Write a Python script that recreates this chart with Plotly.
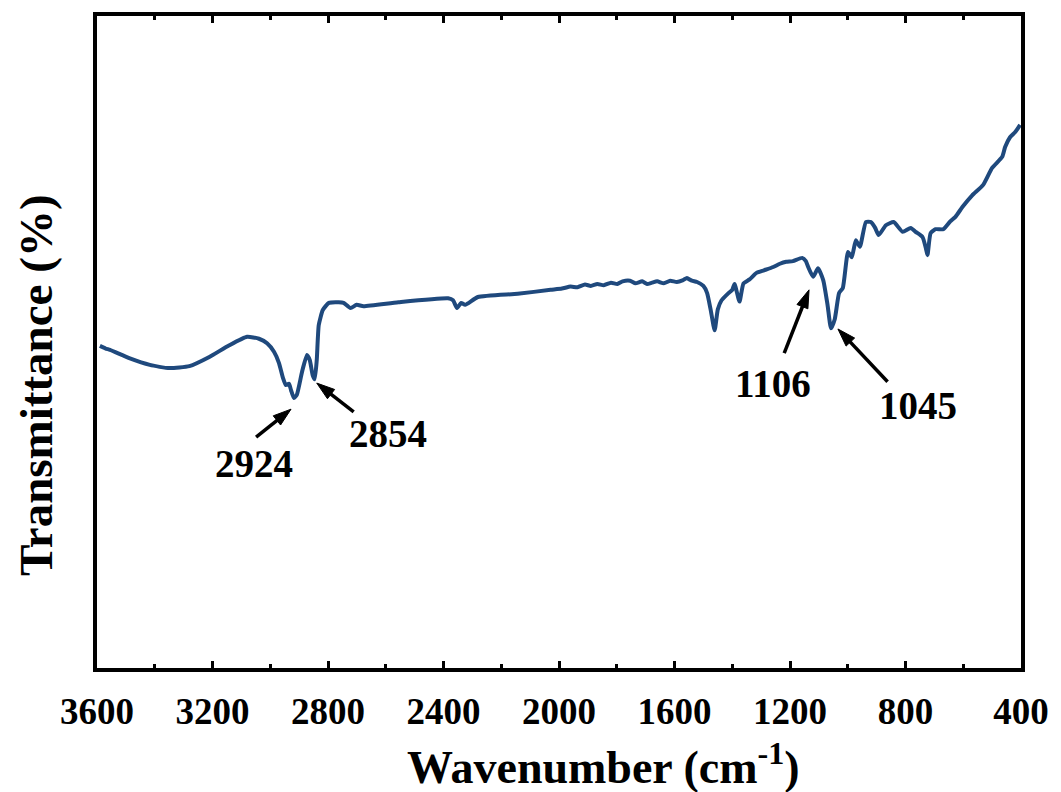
import plotly.graph_objects as go

wavenumber = [3590, 3570, 3555, 3486, 3417, 3349, 3280, 3211, 3142, 3080, 3039, 3011, 2987, 2970,
              2956, 2946, 2935, 2928, 2918, 2908, 2890, 2873, 2863, 2853, 2846, 2839, 2832, 2818,
              2797, 2763, 2746, 2722, 2701, 2677, 2556, 2384, 2367, 2353, 2339, 2325, 2281, 2143,
              2029, 1990, 1960, 1936, 1910, 1890, 1867, 1845, 1820, 1798, 1780, 1754, 1735, 1712,
              1695, 1678, 1660, 1637, 1615, 1592, 1570, 1557, 1540, 1522, 1500, 1487, 1475, 1461,
              1450, 1437, 1413, 1400, 1392, 1375, 1361, 1340, 1316, 1290, 1258, 1235, 1213, 1190,
              1158, 1145, 1137, 1120, 1103, 1085, 1070, 1058, 1045, 1030, 1017, 999, 986, 972,
              958, 937, 920, 905, 893, 868, 841, 810, 782, 765, 741, 730, 724, 713, 696, 669,
              645, 627, 603, 569, 531, 500, 465, 455, 438, 420, 403]
transmittance = [49.4, 49.0, 48.8, 47.5, 46.5, 46.0, 46.3, 47.7, 49.5, 50.8, 50.5, 49.8, 48.5, 46.8,
                 44.5, 43.4, 43.6, 42.6, 41.4, 41.9, 45.4, 48.0, 47.2, 44.9, 44.3, 47.2, 52.6, 54.9,
                 56.0, 56.1, 56.0, 55.2, 55.7, 55.5, 56.1, 56.7, 56.4, 55.2, 56.0, 55.7, 56.9, 57.4,
                 58.0, 58.2, 58.5, 58.4, 58.8, 58.6, 58.9, 58.7, 59.1, 58.9, 59.3, 59.4, 59.0, 59.3,
                 58.9, 59.1, 59.3, 59.0, 59.4, 59.2, 59.5, 59.8, 59.4, 59.2, 58.6, 57.5, 55.0, 51.8,
                 55.0, 56.4, 57.5, 58.0, 58.9, 56.2, 59.0, 59.6, 60.6, 61.0, 61.5, 62.0, 62.3, 62.4,
                 62.9, 62.4, 61.5, 60.0, 61.3, 59.5, 55.7, 52.1, 53.5, 57.5, 58.3, 63.8, 63.0, 65.6,
                 64.6, 68.4, 68.4, 67.5, 66.4, 67.9, 68.4, 66.9, 67.5, 66.9, 66.1, 64.5, 63.3, 66.7,
                 67.3, 67.3, 68.5, 69.2, 70.7, 72.5, 74.1, 76.7, 78.4, 79.9, 81.4, 82.2, 83.3]

peak_labels = ["2924", "2854", "1106", "1045"]
x_ticks = [3600, 3200, 2800, 2400, 2000, 1600, 1200, 800, 400]
x_minor = [3400, 3000, 2600, 2200, 1800, 1400, 1000, 600]

serif = "Liberation Serif"

fig = go.Figure()
fig.add_trace(go.Scatter(x=wavenumber, y=transmittance, mode="lines",
                         line=dict(color="#1f497d", width=4, shape="spline", smoothing=0.5),
                         showlegend=False, hoverinfo="skip"))

# arrows: (tail_x, tail_y, head_x, head_y); label centres
arrows = [(3049, 35.4, 2928, 39.7), (2711, 39.3, 2839, 43.7),
          (1220, 48.3, 1134, 58.0), (862, 43.9, 1034, 52.0)]
label_pos = [(3056, 31.4), (2591, 36.0), (1258, 43.7), (758, 40.3)]
for lab, (tx, ty, hx, hy), (lx, ly) in zip(peak_labels, arrows, label_pos):
    fig.add_trace(go.Scatter(x=[tx, hx], y=[ty, hy], mode="lines+markers",
                             line=dict(color="black", width=3.5),
                             marker=dict(symbol="arrow", size=[0, 19], angleref="previous",
                                         color="black", opacity=1,
                                         line=dict(width=1, color="black")),
                             showlegend=False, hoverinfo="skip"))
    fig.add_annotation(x=lx, y=ly, xref="x", yref="y", text="<b>%s</b>" % lab, showarrow=False,
                       font=dict(family=serif, size=39, color="black"))

fig.add_annotation(x=0.548, y=-0.148, xref="paper", yref="paper", showarrow=False,
                   text="<b>Wavenumber (cm<sup>-1</sup>)</b>", yanchor="middle",
                   font=dict(family=serif, size=46, color="black"))
fig.add_annotation(x=-0.066, y=0.434, xref="paper", yref="paper", showarrow=False,
                   text="<b>Transmittance (%)</b>", textangle=-90,
                   xanchor="center", yanchor="middle",
                   font=dict(family=serif, size=47, color="black"))

fig.update_xaxes(range=[3600, 400], autorange=False, showgrid=False, zeroline=False,
                 showline=True, linewidth=4, linecolor="black", mirror="ticks",
                 ticks="inside", ticklen=7, tickwidth=3, tickcolor="black",
                 tickmode="array", tickvals=x_ticks,
                 ticktext=["<b>%d</b>" % v for v in x_ticks],
                 minor=dict(tickvals=x_minor, ticks="inside", ticklen=4, tickwidth=3,
                            tickcolor="black"),
                 ticklabelstandoff=8,
                 tickfont=dict(family=serif, size=37, color="black"))
fig.update_yaxes(range=[0, 100], showgrid=False, zeroline=False, showticklabels=False,
                 showline=True, linewidth=4, linecolor="black", mirror=True, ticks="")
fig.update_layout(width=1061, height=792, margin=dict(l=97, r=34, t=16, b=124),
                  plot_bgcolor="white", paper_bgcolor="white")
fig.write_html("out.html", config={"displayModeBar": False},
               post_script="document.body.style.margin='0';")
